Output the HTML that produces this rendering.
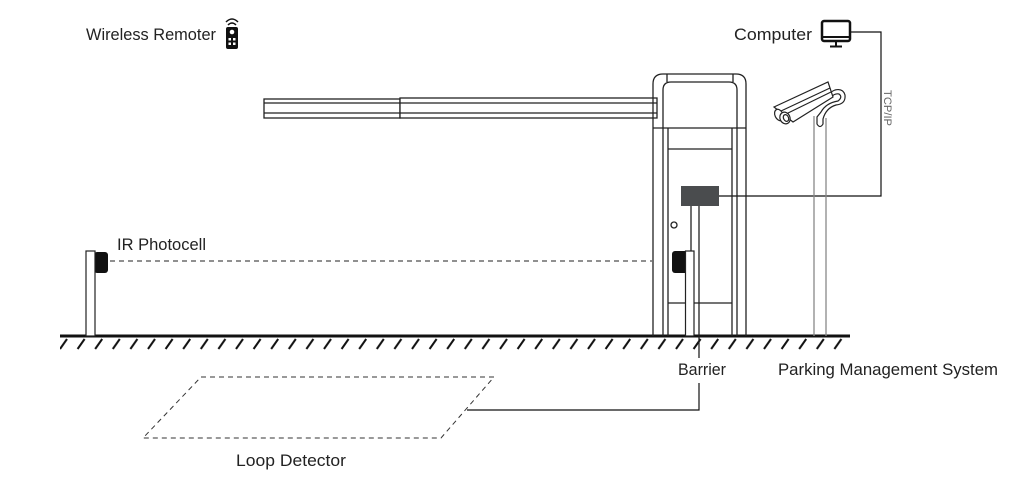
<!DOCTYPE html>
<html><head><meta charset="utf-8"><style>
html,body{margin:0;padding:0;background:#fff;}
svg{display:block;}
text{font-family:"Liberation Sans Narrow","Liberation Sans",sans-serif;fill:#222;}
</style></head><body>
<svg width="1030" height="498" viewBox="0 0 1030 498" xmlns="http://www.w3.org/2000/svg">
<defs>
<pattern id="h" x="58" y="338" width="17.6" height="12" patternUnits="userSpaceOnUse">
<line x1="2" y1="11" x2="9" y2="1" stroke="#111" stroke-width="2"/>
</pattern>
</defs>
<!-- ground -->
<rect x="60" y="338" width="790" height="12" fill="url(#h)"/>
<line x1="60" y1="336" x2="850" y2="336" stroke="#111" stroke-width="3"/>

<!-- labels -->
<text x="86" y="40" font-size="17" textLength="130" lengthAdjust="spacingAndGlyphs">Wireless Remoter</text>
<text x="734" y="40" font-size="17" textLength="78" lengthAdjust="spacingAndGlyphs">Computer</text>
<text x="117" y="250" font-size="17" textLength="89" lengthAdjust="spacingAndGlyphs">IR Photocell</text>
<text x="678" y="375" font-size="17" textLength="48" lengthAdjust="spacingAndGlyphs">Barrier</text>
<text x="778" y="375" font-size="17" textLength="220" lengthAdjust="spacingAndGlyphs">Parking Management System</text>
<text x="236" y="466" font-size="17" textLength="110" lengthAdjust="spacingAndGlyphs">Loop Detector</text>
<text x="0" y="0" font-size="11" fill="#666" style="fill:#666" transform="translate(884,90) rotate(90)" textLength="36" lengthAdjust="spacingAndGlyphs">TCP/IP</text>

<!-- remote icon -->
<g fill="#111">
<path d="M226 22 Q232 16 238 22" stroke="#111" stroke-width="1.5" fill="none"/>
<path d="M228 25 Q232 21 236 25" stroke="#111" stroke-width="1.5" fill="none"/>
<rect x="226" y="27" width="12" height="22" rx="2"/>
<circle cx="232" cy="32" r="2.3" fill="#fff"/>
<rect x="228.5" y="38" width="2.5" height="2.5" fill="#fff"/><rect x="233" y="38" width="2.5" height="2.5" fill="#fff"/>
<rect x="228.5" y="42.5" width="2.5" height="2.5" fill="#fff"/><rect x="233" y="42.5" width="2.5" height="2.5" fill="#fff"/>
</g>
<!-- computer icon -->
<g stroke="#111" fill="none">
<rect x="822" y="21" width="28" height="20" rx="2" stroke-width="2.5"/>
<line x1="822" y1="37" x2="850" y2="37" stroke-width="2"/>
<line x1="836" y1="41" x2="836" y2="46" stroke-width="2"/>
<line x1="830" y1="46.5" x2="842" y2="46.5" stroke-width="2"/>
</g>
<!-- network line -->
<polyline points="851,32 881,32 881,196 719,196" stroke="#111" stroke-width="1.2" fill="none"/>

<!-- arm -->
<g stroke="#222" stroke-width="1.3" fill="#fff">
<rect x="264" y="99" width="136" height="19"/>
<rect x="400" y="98" width="257" height="20"/>
<line x1="264" y1="103" x2="657" y2="103"/>
<line x1="264" y1="113" x2="657" y2="113"/>
</g>

<!-- barrier cabinet -->
<g stroke="#222" stroke-width="1.3" fill="none">
<path d="M653 336 V84 Q653 74 663 74 H736 Q746 74 746 84 V336"/>
<path d="M663 336 V90 Q663 82 671 82 H729 Q737 82 737 90 V336"/>
<line x1="667" y1="74" x2="667" y2="82"/><line x1="733" y1="74" x2="733" y2="82"/>
<line x1="653" y1="128" x2="746" y2="128"/>
<line x1="668" y1="128" x2="668" y2="336"/>
<line x1="732" y1="128" x2="732" y2="336"/>
<line x1="668" y1="149" x2="732" y2="149"/>
<line x1="668" y1="303" x2="732" y2="303"/>
<circle cx="674" cy="225" r="3"/>
<line x1="691" y1="206" x2="691" y2="252"/>
<line x1="699" y1="206" x2="699" y2="358"/>
</g>
<rect x="681" y="186" width="38" height="20" fill="#4a4c4e"/>
<rect x="672" y="251" width="16" height="22" rx="3" fill="#111"/>
<rect x="685.5" y="251" width="8.5" height="85" fill="#fff" stroke="#222" stroke-width="1.2"/>

<!-- left photocell -->
<rect x="94" y="252" width="14" height="21" rx="3" fill="#111"/>
<rect x="86" y="251" width="9" height="85" fill="#fff" stroke="#222" stroke-width="1.2"/>
<line x1="110" y1="261" x2="652" y2="261" stroke="#222" stroke-width="1" stroke-dasharray="5,4"/>

<!-- camera pole -->
<g stroke="#888" stroke-width="1.3"><line x1="814" y1="116" x2="814" y2="336"/><line x1="826" y1="118" x2="826" y2="336"/></g>
<g stroke="#222" stroke-width="1.2" fill="#fff">
<path d="M817 117 L817 124 Q820 129 823 124 L823 119 Q826 108 836 105 Q846 104 845 95 Q843 88 835 90 Q830 92 829 95 L831 97 Q835 93 839 94 Q843 97 838 101 Q826 103 821 112 Z"/>
<polygon points="774,107 828,82 833,97 793,122"/>
<line x1="781" y1="111" x2="830" y2="88"/>
<line x1="784" y1="115" x2="831" y2="92"/>
<ellipse cx="779" cy="115" rx="4" ry="6" transform="rotate(-25 779 115)"/>
<ellipse cx="785" cy="118" rx="5" ry="6" transform="rotate(-25 785 118)"/>
<ellipse cx="786" cy="118" rx="2.5" ry="3.5" transform="rotate(-25 786 118)"/>
</g>

<!-- loop detector -->
<polygon points="201,377 494,377 441,438 143,438" fill="none" stroke="#333" stroke-width="1" stroke-dasharray="5,4"/>
<polyline points="467,410 699,410 699,383" fill="none" stroke="#111" stroke-width="1.2"/>
</svg>
</body></html>
